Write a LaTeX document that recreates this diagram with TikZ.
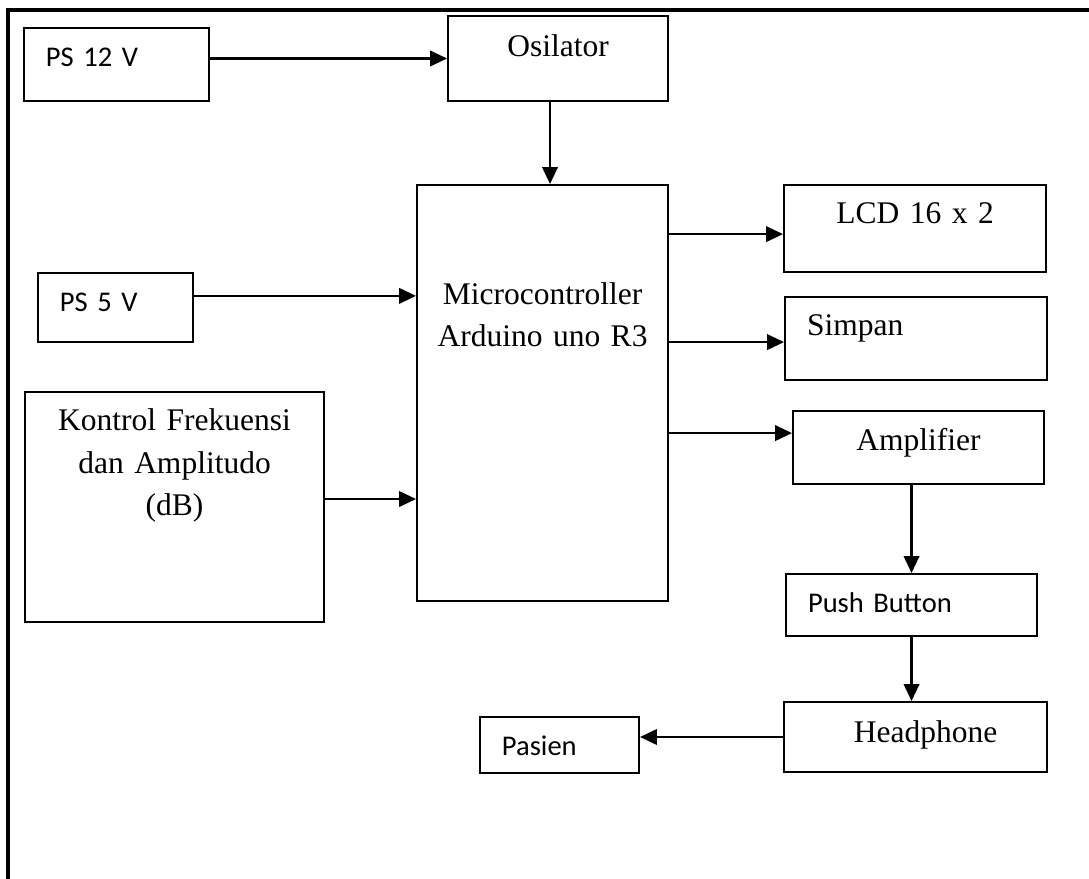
\documentclass[tikz,border=0pt]{standalone}
\usepackage{fontspec}
\newfontfamily\tnrfont{Liberation Serif}
\newfontfamily\calfont{Carlito}
\usetikzlibrary{arrows.meta}
\tikzstyle{blok} = [
    rectangle,
    draw=black,
    line width=1.4pt,
    inner sep=0pt,
    anchor=north west
]
\tikzstyle{tengah} = [
    blok,
    align=center,
    font=\tnrfont\fontsize{22.4}{29.9}\selectfont
]
\tikzstyle{kiri} = [
    blok,
    align=left,
    inner xsep=0.55cm,
    font=\calfont\fontsize{20.3}{24}\selectfont
]
\tikzstyle{arrow} = [line width=1.5pt, -{Triangle[length=12pt,width=11pt]}]
\tikzstyle{bingkai} = [line width=2.2pt]

\begin{document}
\begin{tikzpicture}[x=0.025cm, y=-0.025cm]

\useasboundingbox (0,0) rectangle (1089,879);
\draw [bingkai] (8,879) -- (8,10) -- (1089,10);

\node (ps12) [kiri, text width=3.525cm, text height=0.975cm, text depth=0.85cm]
at (23,27) {PS 12 V};

\node (osc) [tengah, text width=5.5cm, text height=1.025cm, text depth=1.1cm]
at (447,15) {Osilator};

\node (micro) [tengah, text width=6.275cm, text height=2.975cm, text depth=7.425cm]
at (416,184) {Microcontroller\\Arduino uno R3};

\node (ps5) [kiri, text width=2.775cm, text height=0.975cm, text depth=0.75cm]
at (37,272) {PS 5 V};

\node (kontrol) [tengah, text width=7.475cm, text height=0.975cm, text depth=4.775cm]
at (24,391) {Kontrol Frekuensi\\dan Amplitudo\\(dB)};

\node (lcd) [tengah, text width=6.55cm, text height=0.975cm, text depth=1.2cm]
at (783,184) {LCD 16 x 2};

\node (simpan) [kiri, text width=5.45cm, text height=0.975cm, text depth=1.1cm]
at (784,296) {\tnrfont\fontsize{22.4}{29.9}\selectfont Simpan};

\node (amp) [tengah, text width=6.275cm, text height=1cm, text depth=0.825cm]
at (792,410) {Amplifier};

\node (push) [kiri, text width=5.175cm, text height=0.95cm, text depth=0.6cm]
at (785,573) {Push Button};

\node (head) [tengah, text width=6.575cm, text height=1cm, text depth=0.75cm]
at (783,701) {\hspace*{0.5cm}Headphone};

\node (pasien) [kiri, text width=2.875cm, text height=0.95cm, text depth=0.45cm]
at (479,716) {Pasien};

\draw [arrow] (ps12.east |- osc.west) -- (osc.west);
\draw [arrow] ([xshift=-0.2cm]osc.south) -- ([xshift=-0.2cm]osc.south |- micro.north);
\draw [arrow] ([yshift=0.29cm]ps5.east) -- ([yshift=0.29cm]ps5.east -| micro.west);
\draw [arrow] ([yshift=0.2cm]kontrol.east) -- ([yshift=0.2cm]kontrol.east -| micro.west);
\draw [arrow] ([yshift=-0.14cm]lcd.west -| micro.east) -- ([yshift=-0.14cm]lcd.west);
\draw [arrow] ([yshift=-0.09cm]simpan.west -| micro.east) -- ([yshift=-0.09cm]simpan.west);
\draw [arrow] ([yshift=0.36cm]amp.west -| micro.east) -- ([yshift=0.36cm]amp.west);
\draw [arrow] (push.north |- amp.south) -- (push.north);
\draw [arrow] (push.south) -- (push.south |- head.north);
\draw [arrow] (head.west) -- (head.west -| pasien.east);

\end{tikzpicture}
\end{document}
